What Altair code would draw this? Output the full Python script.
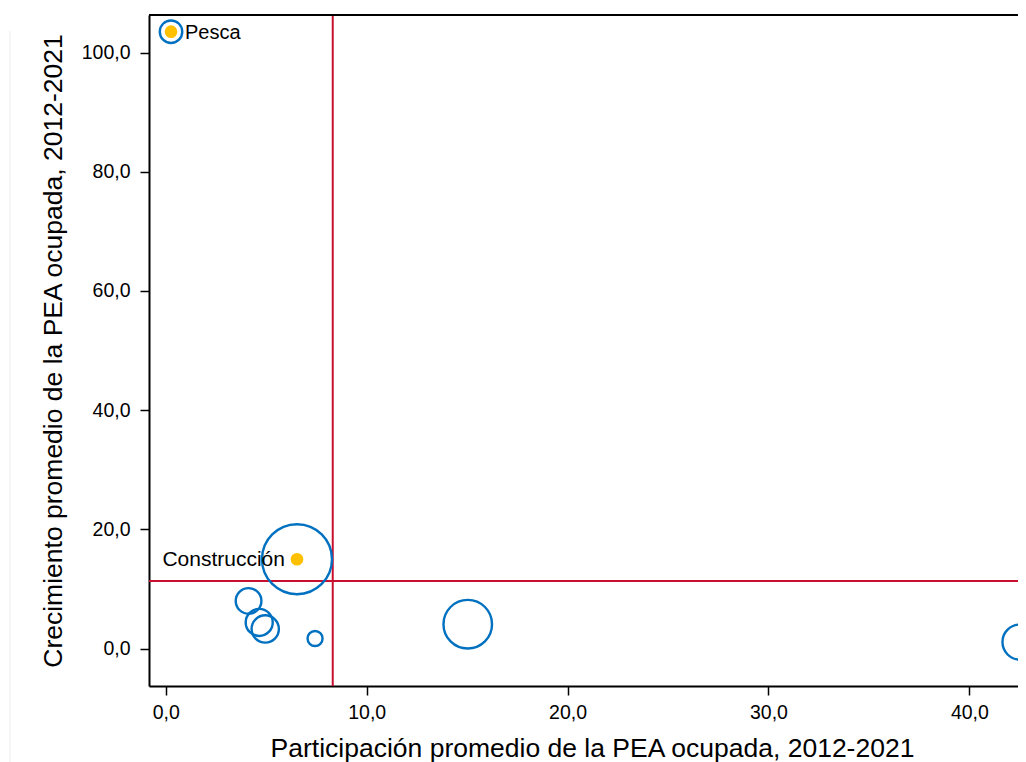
import altair as alt
import pandas as pd

# ---- data ----
sectores = ["Pesca", "Construcción", "Sector 3", "Sector 4", "Sector 5",
            "Sector 6", "Sector 7", "Sector 8"]
participacion = [0.26, 6.53, 4.12, 4.65, 4.95, 7.43, 15.03, 42.52]
crecimiento = [103.5, 15.0, 8.0, 4.4, 3.3, 1.7, 4.1, 1.1]
peso = [161, 1560, 210, 233, 237, 72, 751, 392]
etiqueta = ["Pesca", "Construcción", "", "", "", "", "", ""]
lado = ["der", "izq", "", "", "", "", "", ""]

promedio_participacion = [8.31]
promedio_crecimiento = [11.33]

x_ticks = [0, 10, 20, 30, 40]
y_ticks = [0, 20, 40, 60, 80, 100]
x_dominio = [-0.836, 42.42]
y_dominio = [-6.27, 106.3]

df = pd.DataFrame({
    "sector": sectores,
    "participacion": participacion,
    "crecimiento": crecimiento,
    "peso": peso,
    "etiqueta": etiqueta,
    "lado": lado,
})
prom = pd.DataFrame({"mx": promedio_participacion, "my": promedio_crecimiento})

W, H = 869, 671
FONT = "Liberation Sans"
BLUE = "#0070C0"
GOLD = "#FFC000"
RED = "#C8102E"

fmt = "replace(format(datum.value, '.1f'), '.', ',')"

x_enc = alt.X("participacion:Q",
              scale=alt.Scale(domain=x_dominio, nice=False, zero=False),
              axis=alt.Axis(values=x_ticks, labelExpr=fmt,
                            title="Participación promedio de la PEA ocupada, 2012-2021",
                            labelPadding=8, titleBaseline="alphabetic",
                            titleY=70, titleX=443))
y_enc = alt.Y("crecimiento:Q",
              scale=alt.Scale(domain=y_dominio, nice=False, zero=False),
              axis=alt.Axis(values=y_ticks, labelExpr=fmt,
                            title="Crecimiento promedio de la PEA ocupada, 2012-2021",
                            labelPadding=10, titleBaseline="alphabetic", titleX=-88))

base = alt.Chart(df)

burbujas = base.mark_point(shape="circle", filled=False, strokeWidth=2.4,
                           color=BLUE, opacity=1).encode(
    x=x_enc, y=y_enc,
    size=alt.Size("peso:Q", scale=alt.Scale(domain=[0, 1600], range=[0, 5026.5]),
                  legend=None),
)

puntos = base.transform_filter("datum.etiqueta != ''").mark_circle(
    size=160, color=GOLD, opacity=1).encode(x=x_enc, y=y_enc)

txt_der = base.transform_filter("datum.lado == 'der'").mark_text(
    align="left", baseline="middle", dx=14, dy=1, fontSize=20, font=FONT,
    color="black").encode(x=x_enc, y=y_enc, text="etiqueta:N")

txt_izq = base.transform_filter("datum.lado == 'izq'").mark_text(
    align="right", baseline="middle", dx=-12, dy=1, fontSize=21, font=FONT,
    color="black").encode(x=x_enc, y=y_enc, text="etiqueta:N")

linea_v = alt.Chart(prom).mark_rule(color=RED, strokeWidth=2).encode(
    x=alt.X("mx:Q", scale=alt.Scale(domain=x_dominio, nice=False, zero=False)))
linea_h = alt.Chart(prom).mark_rule(color=RED, strokeWidth=2).encode(
    y=alt.Y("my:Q", scale=alt.Scale(domain=y_dominio, nice=False, zero=False)))

borde_sup = alt.Chart(prom).mark_rule(color="black", strokeWidth=2).encode(
    x=alt.value(0), x2=alt.value(W), y=alt.value(0))

borde_pagina = alt.Chart(prom).mark_rule(color="#ececec", strokeWidth=1).encode(
    x=alt.value(-139), y=alt.value(16), y2=alt.value(747))

chart = alt.layer(
    borde_pagina, linea_v, linea_h, burbujas, puntos, txt_der, txt_izq, borde_sup
).properties(
    width=W, height=H,
    autosize=alt.AutoSizeParams(type="none"),
    padding={"left": 141, "top": 7, "right": 0, "bottom": 76},
).configure_view(
    stroke=None
).configure_axis(
    grid=False,
    domainColor="black", domainWidth=2,
    tickColor="black", tickWidth=1.5, tickSize=9,
    labelFont=FONT, labelFontSize=19.5, labelColor="black",
    titleFont=FONT, titleFontSize=26.5, titleFontWeight="normal", titleColor="black",
)

chart.save("out.html", embed_options={"renderer": "svg", "actions": False})
